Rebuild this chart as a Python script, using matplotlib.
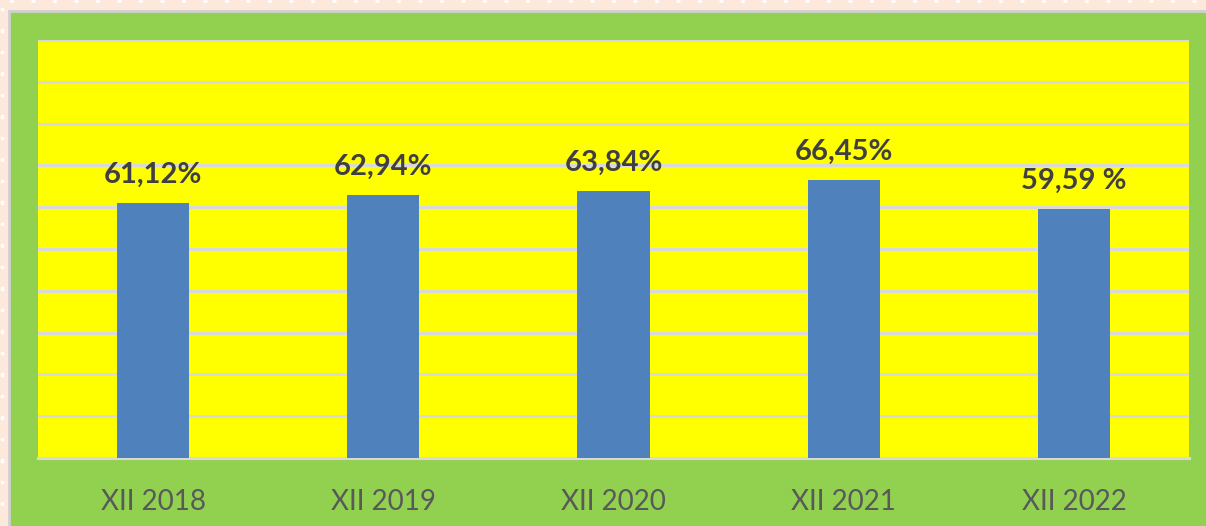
import matplotlib.pyplot as plt
from matplotlib.patches import Rectangle
import numpy as np

# data
categories = ["XII 2018", "XII 2019", "XII 2020", "XII 2021", "XII 2022"]
values = [61.12, 62.94, 63.84, 66.45, 59.59]
value_labels = ["61,12%", "62,94%", "63,84%", "66,45%", "59,59 %"]

W, H = 1206, 526
fig = plt.figure(figsize=(W / 100, H / 100), dpi=100)
fig.patch.set_facecolor("#FDE9DC")

# dotted page border (top row and left column)
for x in np.arange(12, W, 21.5):
    fig.patches.append(plt.Circle((x / W, 1 - 1.5 / H), 1.6 / W, color="white",
                                  transform=fig.transFigure, figure=fig, zorder=-6))
for y in np.arange(H - 10, 0, -21.5):
    fig.patches.append(Rectangle((0.6 / W, y / H), 2.5 / W, 2.5 / H, color="white",
                                 transform=fig.transFigure, figure=fig, zorder=-6))

# green chart area with light gray border
fig.patches.append(Rectangle((8.5 / W, -0.01), 1.1, (H - 11) / H + 0.01,
                             facecolor="#92D050", edgecolor="#D0D0D0", linewidth=2,
                             transform=fig.transFigure, figure=fig, zorder=-5))

ax = fig.add_axes([38 / W, (H - 458) / H, 1151 / W, 418 / H])
ax.set_facecolor("#FFFF00")

x = np.arange(len(categories))
ax.bar(x, values, width=0.313, color="#4F81BD", zorder=3)
ax.set_xlim(-0.5, len(categories) - 0.5)
ax.set_ylim(0, 100)
ax.set_yticks(np.arange(0, 101, 10))
ax.yaxis.grid(True, color="#D9D9D9", linewidth=2.2, zorder=0)
ax.set_axisbelow(True)
ax.tick_params(axis="y", left=False, labelleft=False)
ax.tick_params(axis="x", bottom=False, pad=19, labelsize=20, labelcolor="#595959")
ax.set_xticks(x)
ax.set_xticklabels(categories, fontfamily="Lato")
for side in ["left", "right", "top"]:
    ax.spines[side].set_visible(False)
ax.spines["bottom"].set_color("#D9D9D9")
ax.spines["bottom"].set_linewidth(2.2)

for xi, v, lab in zip(x, values, value_labels):
    ax.annotate(lab, (xi, v), xytext=(0, 14.4), textcoords="offset points",
                ha="center", va="baseline", fontsize=21, fontweight="bold",
                fontfamily="Lato", color="#404040", zorder=4)

fig.savefig("out.png", dpi=100, facecolor=fig.get_facecolor())
